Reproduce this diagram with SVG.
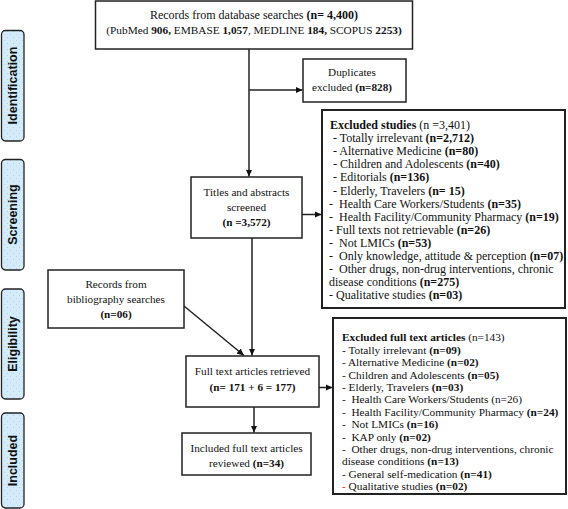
<svg xmlns="http://www.w3.org/2000/svg" width="568" height="509" viewBox="0 0 568 509">
<defs>
<style>
.box{fill:#fff;stroke:#222;stroke-width:1.5}
.xbox{fill:#fff;stroke:#222;stroke-width:2}
.t{font-family:"Liberation Serif","Times New Roman",serif;font-size:11.2px;fill:#111;white-space:pre}
.s{font-size:12px}
.f{font-size:11.3px}
.c{text-anchor:middle}
.b{font-weight:bold}
.side{fill:url(#dots);stroke:#222;stroke-width:1.3}
.st{font-family:"Liberation Sans",Arial,sans-serif;font-size:12.5px;font-weight:bold;fill:#111;text-anchor:middle}
.ln{stroke:#222;stroke-width:1.5;fill:none}
</style>
<pattern id="dots" width="6" height="6" patternUnits="userSpaceOnUse">
<rect width="6" height="6" fill="#d3ecfb"/>
<rect x="1" y="1" width="1" height="1" fill="#b9cfdd"/>
<rect x="4" y="4" width="1" height="1" fill="#bfd4e2"/>
</pattern>
<marker id="ah" markerWidth="8" markerHeight="8" refX="7" refY="4" orient="auto" markerUnits="userSpaceOnUse">
<path d="M0,0.8 L7,4 L0,7.2 Z" fill="#111"/>
</marker>
</defs>
<rect width="568" height="509" fill="#fff"/>

<g id="side-identification">
<rect class="side" x="1.5" y="30.5" width="22.5" height="110.5" rx="4"/>
<text class="st" transform="translate(17.2,85.5) rotate(-90)">Identification</text>
</g>
<g id="side-screening">
<rect class="side" x="1.5" y="159.5" width="22.5" height="110.5" rx="4"/>
<text class="st" transform="translate(17.2,214.5) rotate(-90)">Screening</text>
</g>
<g id="side-eligibility">
<rect class="side" x="1.5" y="289" width="22.5" height="110" rx="4"/>
<text class="st" transform="translate(17.2,344) rotate(-90)">Eligibility</text>
</g>
<g id="side-included">
<rect class="side" x="1.5" y="413" width="22.5" height="95" rx="4"/>
<text class="st" transform="translate(17.2,460.5) rotate(-90)">Included</text>
</g>

<g id="connectors">
<line class="ln" x1="249" y1="49" x2="249" y2="176.5" marker-end="url(#ah)"/>
<line class="ln" x1="249" y1="90" x2="302.5" y2="90" marker-end="url(#ah)"/>
<line class="ln" x1="302" y1="214.5" x2="321.5" y2="214.5" marker-end="url(#ah)"/>
<line class="ln" x1="252" y1="238" x2="252" y2="355.5" marker-end="url(#ah)"/>
<line class="ln" x1="184" y1="306" x2="244" y2="355.5" marker-end="url(#ah)"/>
<line class="ln" x1="319" y1="387.5" x2="332.5" y2="387.5" marker-end="url(#ah)"/>
<line class="ln" x1="254" y1="407" x2="254" y2="432.5" marker-end="url(#ah)"/>
</g>

<g id="records-database">
<rect class="box" x="95.5" y="1" width="317" height="48"/>
<text class="t c s" x="254" y="19">Records from database searches <tspan class="b">(n= 4,400)</tspan></text>
<text class="t c f" x="254" y="34">(PubMed <tspan class="b">906,</tspan> EMBASE <tspan class="b">1,057</tspan>, MEDLINE <tspan class="b">184,</tspan> SCOPUS <tspan class="b">2253)</tspan></text>
</g>

<g id="duplicates">
<rect class="box" x="303" y="59" width="103" height="43"/>
<text class="t c" x="352" y="75.5">Duplicates</text>
<text class="t c" x="352" y="91">excluded <tspan class="b">(n=828)</tspan></text>
</g>

<g id="titles-abstracts">
<rect class="box" x="191" y="177" width="111" height="61"/>
<text class="t c" x="246.5" y="196">Titles and abstracts</text>
<text class="t c" x="246.5" y="211">screened</text>
<text class="t c b" x="246.5" y="226">(n =3,572)</text>
</g>

<g id="excluded-studies">
<rect class="xbox" x="322" y="110" width="243" height="198"/>
<text class="t s" x="330" y="129"><tspan class="b">Excluded studies</tspan> (n =3,401)</text>
<text class="t s" x="330" y="142.1"> - Totally irrelevant <tspan class="b">(n=2,712)</tspan></text>
<text class="t s" x="330" y="155.2"> - Alternative Medicine <tspan class="b">(n=80)</tspan></text>
<text class="t s" x="330" y="168.3"> - Children and Adolescents <tspan class="b">(n=40)</tspan></text>
<text class="t s" x="330" y="181.4"> - Editorials <tspan class="b">(n=136)</tspan></text>
<text class="t s" x="330" y="194.5"> - Elderly, Travelers <tspan class="b">(n= 15)</tspan></text>
<text class="t s" x="329" y="207.6">-  Health Care Workers/Students <tspan class="b">(n=35)</tspan></text>
<text class="t s" x="329" y="220.7">-  Health Facility/Community Pharmacy <tspan class="b">(n=19)</tspan></text>
<text class="t s" x="329" y="233.8">- Full texts not retrievable <tspan class="b">(n=26)</tspan></text>
<text class="t s" x="329" y="246.9">-  Not LMICs <tspan class="b">(n=53)</tspan></text>
<text class="t s" x="329" y="260">-  Only knowledge, attitude &amp; perception <tspan class="b">(n=07)</tspan></text>
<text class="t s" x="329" y="273.1">-  Other drugs, non-drug interventions, chronic</text>
<text class="t s" x="329" y="286.2">disease conditions <tspan class="b">(n=275)</tspan></text>
<text class="t s" x="329" y="299.3">- Qualitative studies <tspan class="b">(n=03)</tspan></text>
</g>

<g id="bibliography">
<rect class="box" x="48" y="270" width="136" height="58"/>
<text class="t c" x="116" y="288">Records from</text>
<text class="t c" x="116" y="303">bibliography searches</text>
<text class="t c b" x="116" y="318">(n=06)</text>
</g>

<g id="full-text">
<rect class="box" x="186" y="356" width="133" height="51"/>
<text class="t c" x="252.5" y="375">Full text articles retrieved</text>
<text class="t c b" x="252.5" y="391">(n= 171 + 6 = 177)</text>
</g>

<g id="excluded-full-text">
<rect class="xbox" x="333" y="318" width="233" height="176"/>
<text class="t f" x="342" y="341"><tspan class="b">Excluded full text articles</tspan> (n=143)</text>
<text class="t f" x="342" y="354">- Totally irrelevant <tspan class="b">(n=09)</tspan></text>
<text class="t f" x="342" y="366.4">- Alternative Medicine <tspan class="b">(n=02)</tspan></text>
<text class="t f" x="342" y="378.7">- Children and Adolescents <tspan class="b">(n=05)</tspan></text>
<text class="t f" x="342" y="391.1">- Elderly, Travelers <tspan class="b">(n=03)</tspan></text>
<text class="t f" x="342" y="403.4">-  Health Care Workers/Students (n=26)</text>
<text class="t f" x="342" y="415.8">-  Health Facility/Community Pharmacy <tspan class="b">(n=24)</tspan></text>
<text class="t f" x="342" y="428.2">-  Not LMICs <tspan class="b">(n=16)</tspan></text>
<text class="t f" x="342" y="440.5">-  KAP only <tspan class="b">(n=02)</tspan></text>
<text class="t f" x="342" y="452.9">-  Other drugs, non-drug interventions, chronic</text>
<text class="t f" x="342" y="465.2">disease conditions <tspan class="b">(n=13)</tspan></text>
<text class="t f" x="342" y="477.6">- General self-medication <tspan class="b">(n=41)</tspan></text>
<text class="t f" x="342" y="490"><tspan fill="#e02020">-</tspan> Qualitative studies <tspan class="b">(n=02)</tspan></text>
</g>

<g id="included">
<rect class="box" x="182" y="433" width="129" height="42"/>
<text class="t c" x="246.5" y="452">Included full text articles</text>
<text class="t c" x="246.5" y="467">reviewed <tspan class="b">(n=34)</tspan></text>
</g>
</svg>
